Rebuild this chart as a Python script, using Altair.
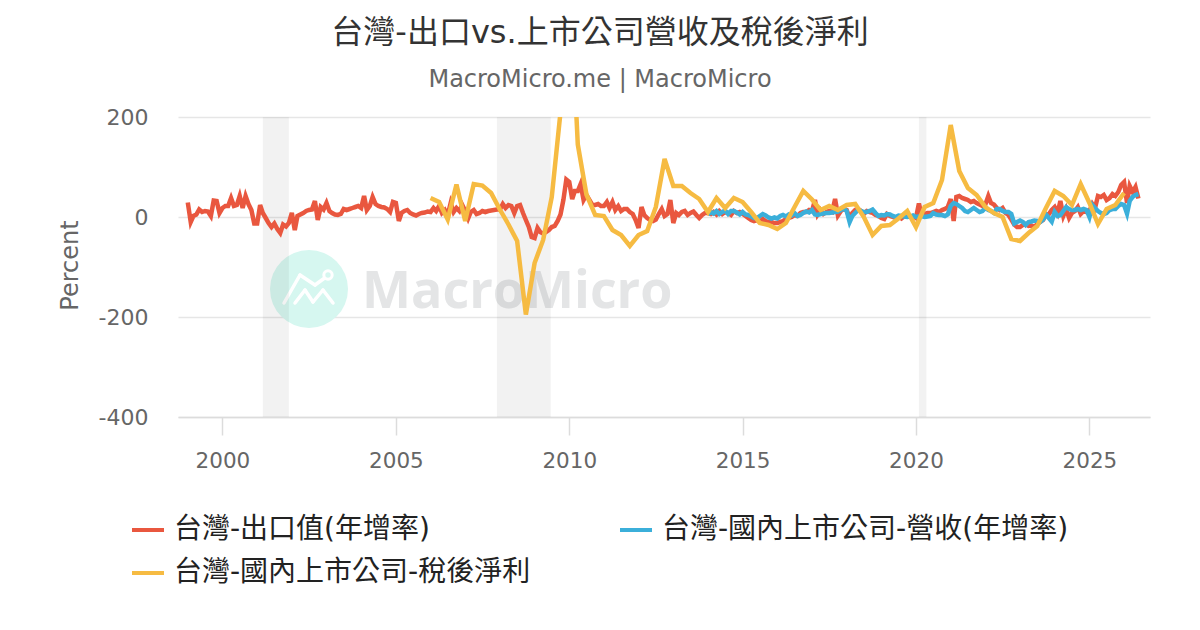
import altair as alt
import pandas as pd

FONT = "DejaVu Sans, Noto Sans CJK TC"
TITLE = "台灣-出口vs.上市公司營收及稅後淨利"
SUBTITLE = "MacroMicro.me | MacroMicro"
N_EXP = "台灣-出口值(年增率)"
N_REV = "台灣-國內上市公司-營收(年增率)"
N_NET = "台灣-國內上市公司-稅後淨利"
COLORS = ["#E9573F", "#3BAFDA", "#F6BB42"]

export_yoy = [
    29,-10,2,5,15,10,12,11,2,33,32,8,
    18,22,22,38,22,24,42,18,42,26,14,-13,
    -13,24,8,-2,-12,-20,-13,-24,-32,-15,-19,-12,
    8,-26,2,5,8,12,14,15,32,-6,20,15,
    28,12,8,5,4,6,16,14,16,18,20,22,
    18,42,14,22,40,26,22,20,19,16,10,30,
    28,-8,8,12,14,8,5,3,6,8,9,11,
    10,18,12,22,8,14,4,28,10,18,12,24,
    12,-3,10,14,6,8,12,10,12,13,14,15,
    15,26,18,24,22,8,22,24,8,-6,-20,-40,
    -42,-22,-30,-33,-30,-26,-20,-18,-8,5,35,75,
    70,36,52,52,66,34,44,34,24,24,26,22,
    22,30,18,30,14,22,12,16,16,10,6,-6,
    -22,20,4,-2,-6,-8,-5,6,16,2,6,34,
    -12,8,4,10,12,4,8,11,4,-2,4,8,
    8,6,10,5,12,6,10,8,4,12,8,10,
    6,2,-2,-6,-8,-6,-10,-4,-8,-10,-10,-12,
    -12,-10,-8,-4,-2,0,4,2,8,10,10,14,
    12,34,5,14,6,10,12,10,36,3,12,16,
    14,-2,8,14,16,12,6,12,10,8,4,2,
    -2,-4,6,2,0,-2,1,-3,2,3,1,2,
    -2,27,3,6,8,8,10,12,10,14,16,20,
    36,-8,40,42,38,36,34,30,32,28,25,22,
    25,42,28,25,18,14,18,8,4,-5,-15,-20,
    -20,-16,-14,-18,-17,-20,-14,-10,-6,4,6,14,
    20,8,32,2,16,-2,8,12,20,6,12,10,
    12,26,18,42,40,44,34,38,46,42,50,64,
    70,28,62,50,60,37,
]
revenue_yoy = [
    5,10,7,12,6,10,13,6,12,12,9,5,
    10,5,4,1,-2,-2,2,6,3,-1,-3,-1,
    -3,2,4,1,5,3,8,2,4,8,11,9,
    14,5,4,6,7,8,8,9,10,11,14,17,
    12,-10,2,8,14,12,10,10,12,15,8,2,
    4,3,6,5,2,0,3,2,1,0,1,3,
    0,1,2,0,1,2,8,5,4,4,2,5,
    22,28,26,22,18,12,10,14,18,14,10,12,
    18,14,12,8,16,16,12,10,10,6,-13,-10,
    -7,-10,-16,-10,-9,-7,-8,-10,-5,5,-2,-9,
    10,2,4,12,20,16,14,14,16,14,16,14,
    0,24,18,12,8,6,8,14,16,16,22,26,
    24,7,32,40,44,46,
]
net_profit = [
    38,30,-5,65,
    -8,66,63,48,
    15,-15,-48,-195,
    -92,-46,40,210,
    500,145,45,4,
    2,-26,-36,-58,
    -36,-28,20,116,
    62,62,48,36,
    10,38,18,38,
    30,10,-12,-16,
    -24,-12,20,52,
    35,14,22,14,
    24,26,0,-36,
    -18,-16,-3,12,
    -20,20,28,74,
    184,92,58,44,
    20,8,0,-44,
    -48,-32,-18,18,
    52,42,24,66,
    28,-14,16,24,
    48,
]
rec_start = ["2001-03-01", "2007-12-01", "2020-02-01"]
rec_end = ["2001-12-01", "2009-06-20", "2020-04-20"]
tick_years = [2000, 2005, 2010, 2015, 2020, 2025]

d_exp = pd.date_range("1999-01-01", periods=len(export_yoy), freq="MS")
d_rev = pd.date_range("2014-01-01", periods=len(revenue_yoy), freq="MS")
d_net = pd.date_range("2006-01-01", periods=len(net_profit), freq="QS")
long = pd.concat([
    pd.DataFrame({"date": d_exp, "value": export_yoy, "series": N_EXP}),
    pd.DataFrame({"date": d_rev, "value": revenue_yoy, "series": N_REV}),
    pd.DataFrame({"date": d_net, "value": net_profit, "series": N_NET}),
])
bands = pd.DataFrame({"start": pd.to_datetime(rec_start), "end": pd.to_datetime(rec_end)})

x_scale = alt.Scale(domain=[alt.DateTime(year=1998, month=9, date=20),
                            alt.DateTime(year=2026, month=10, date=1)], nice=False)
y_scale = alt.Scale(domain=[-400, 200], nice=False)

x_enc = alt.X("date:T", scale=x_scale, title=None,
              axis=alt.Axis(values=[alt.DateTime(year=y, month=1, date=1) for y in tick_years],
                            format="%Y", grid=False, domainColor="#dcdcdc", domainWidth=1.5,
                            tickColor="#dcdcdc", tickSize=18, tickWidth=1.5,
                            labelFontSize=21.5, labelColor="#666666", labelFont=FONT,
                            labelPadding=15, labelOverlap=False))
y_enc = alt.Y("value:Q", scale=y_scale,
              axis=alt.Axis(values=[-400, -200, 0, 200], labelExpr="'' + datum.value", grid=True,
                            gridColor="#e6e6e6", gridWidth=1.5, domain=False, ticks=False,
                            labelFontSize=22, labelColor="#666666", labelFont=FONT, labelPadding=30,
                            title="Percent", titleFontSize=24, titleColor="#666666", titleFont=FONT,
                            titleFontWeight="normal", titleX=-96, titleY=148))

lines = alt.Chart(long).mark_line(strokeWidth=4.5, clip=True, strokeJoin="miter", interpolate="linear").encode(
    x=x_enc, y=y_enc,
    color=alt.Color("series:N", sort=None,
                    scale=alt.Scale(domain=[N_EXP, N_REV, N_NET], range=COLORS),
                    legend=alt.Legend(title=None, orient="none", legendX=-48, legendY=395, columns=2,
                                      direction="horizontal",
                                      symbolType="stroke", symbolSize=1024, symbolStrokeWidth=4,
                                      labelFontSize=28, labelColor="#222222", labelFont=FONT,
                                      labelLimit=600, labelOffset=8, columnPadding=81, rowPadding=11,
                                      symbolOpacity=1)),
)

rect = alt.Chart(bands).mark_rect(color="#000000", opacity=0.05).encode(
    x=alt.X("start:T", scale=x_scale, title=None), x2="end:T")

circle = alt.Chart().mark_circle(size=6084, color="#d6f7f0", opacity=1).encode(
    x=alt.value(131), y=alt.value(172))
word = alt.Chart().mark_text(text="MacroMicro", font="Open Sans", fontSize=52, fontWeight=700,
                             color="#e4e5e6", align="left", baseline="alphabetic").encode(
    x=alt.value(184), y=alt.value(191))
icon = []
for a, b, c, d in [(106, 186, 122, 158), (122, 158, 137, 168), (137, 168, 148, 160),
                   (117, 186, 127, 173), (127, 173, 135, 185), (135, 185, 145, 173), (145, 173, 155, 186)]:
    icon.append(alt.Chart().mark_rule(color="#ffffff", strokeWidth=3.5, strokeCap="round").encode(
        x=alt.value(a), y=alt.value(b), x2=alt.value(c), y2=alt.value(d)))
dot = alt.Chart().mark_circle(size=70, color="#d6f7f0", stroke="#ffffff", strokeWidth=3, opacity=1).encode(
    x=alt.value(150), y=alt.value(158))

chart = alt.layer(circle, *icon, dot, word, rect, lines).properties(
    width=972, height=300,
    autosize=alt.AutoSizeParams(type="none"),
    padding={"left": 170, "top": 109, "right": 42, "bottom": 190},
    title=alt.TitleParams(text=TITLE, subtitle=SUBTITLE, anchor="middle", frame="group", dx=-64,
                          font=FONT, fontSize=32, fontWeight="normal", color="#333333",
                          subtitleFont=FONT, subtitleFontSize=24, subtitleColor="#666666",
                          subtitlePadding=18, offset=13),
).configure_view(stroke=None)

chart.save("out.html", embed_options={"renderer": "svg", "actions": False})
